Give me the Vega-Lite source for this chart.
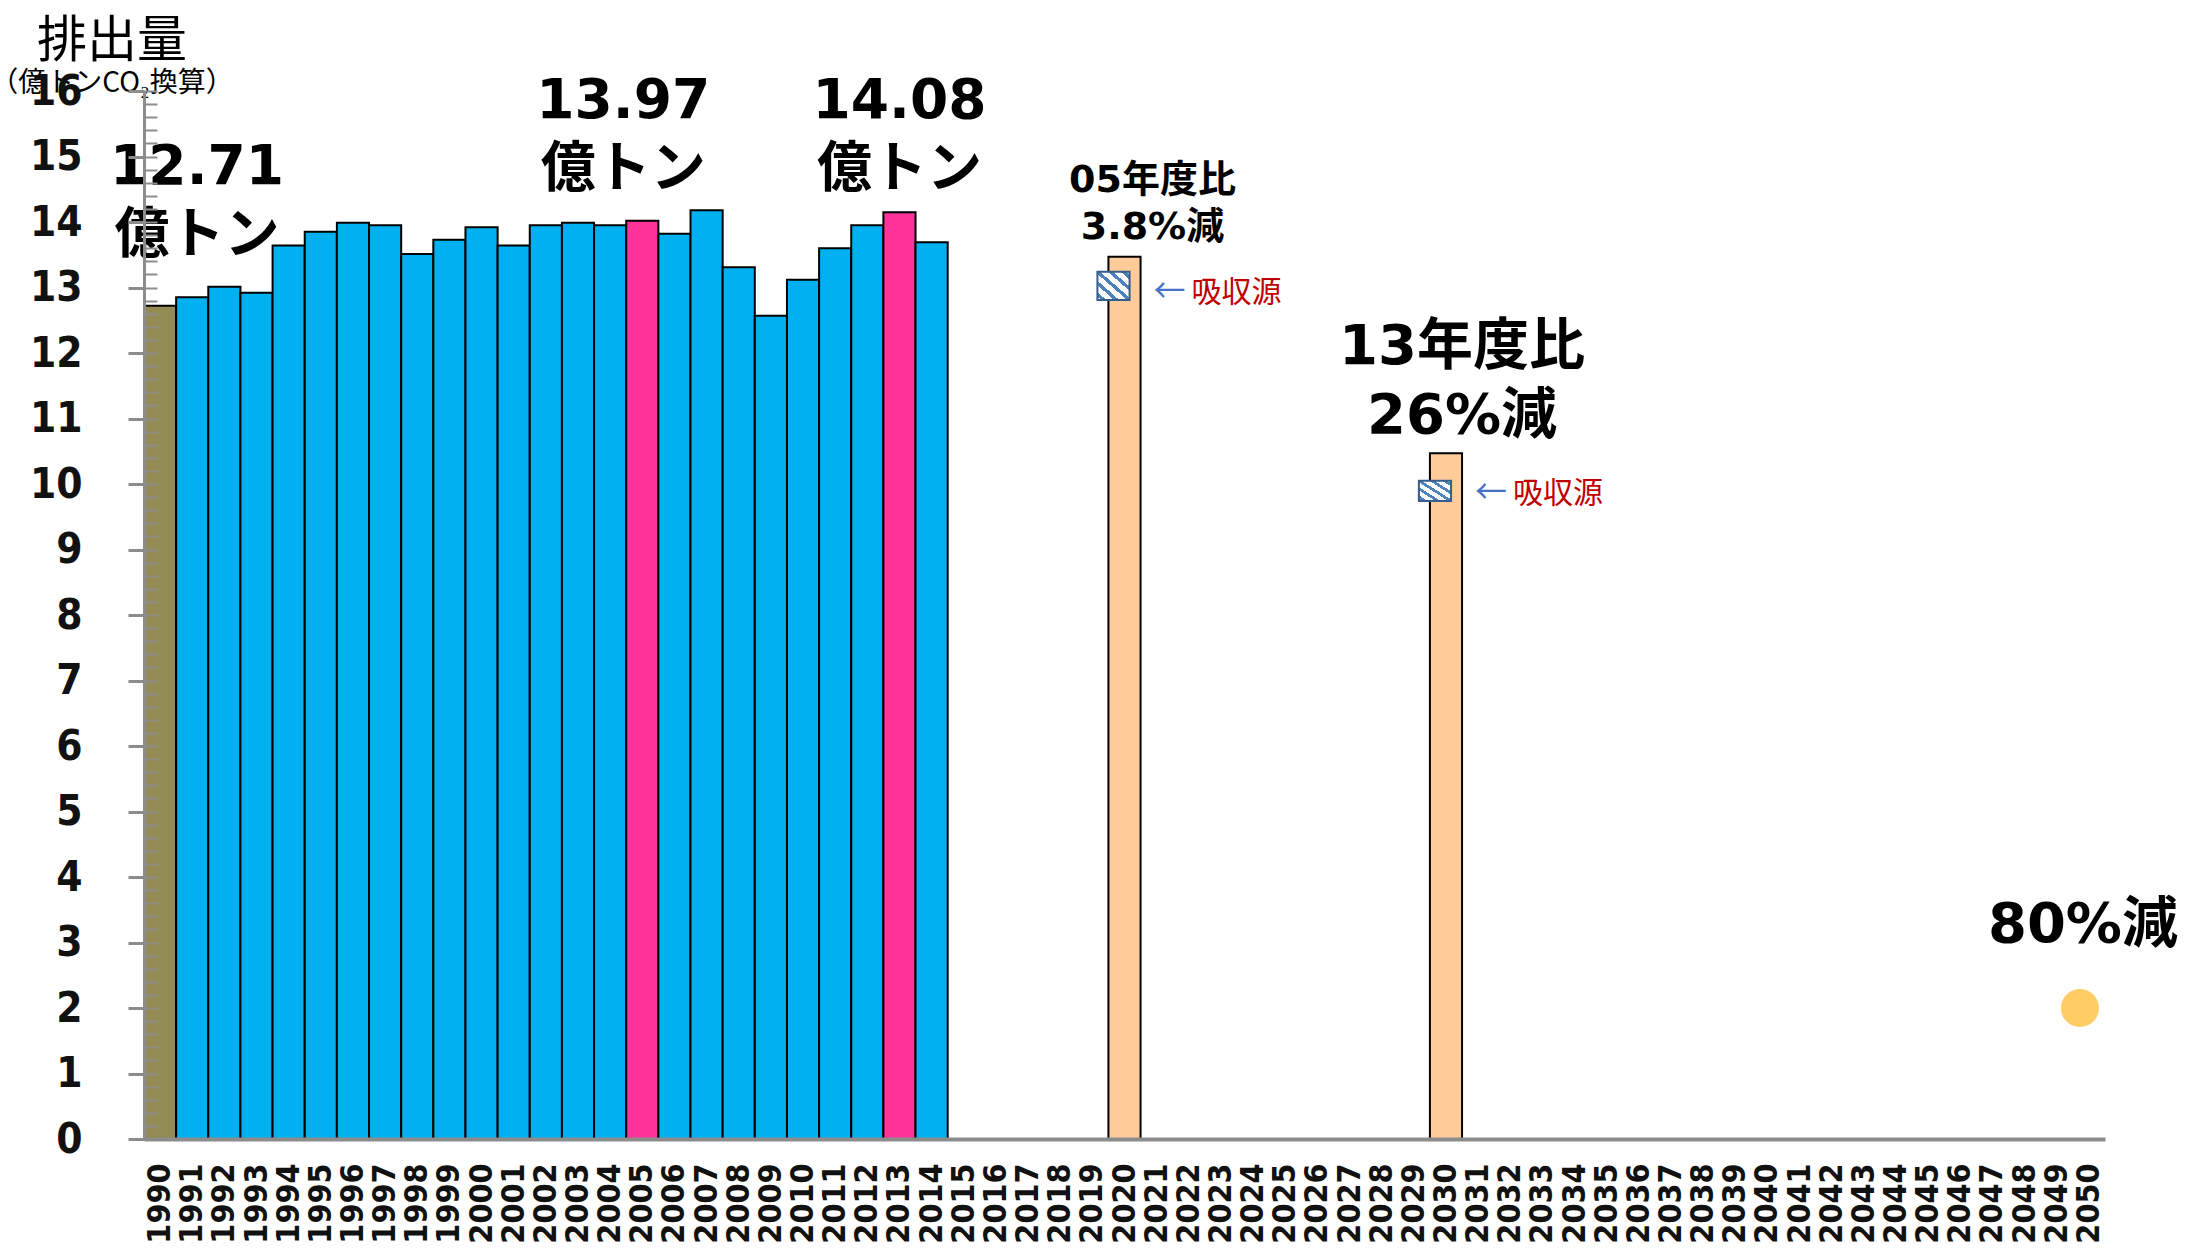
{
  "$schema": "https://vega.github.io/schema/vega-lite/v6.json",
  "width": 1961,
  "height": 1048,
  "autosize": "none",
  "padding": {"left": 144, "top": 91, "right": 83, "bottom": 110},
  "background": "white",
  "config": {"view": {"stroke": null}},
  "title": {
    "text": "排出量",
    "subtitle": "（億トンCO₂換算）",
    "anchor": "start",
    "align": "center",
    "frame": "group",
    "dx": -32,
    "offset": -28,
    "font": "Noto Sans CJK JP",
    "fontSize": 50,
    "fontWeight": "normal",
    "color": "black",
    "subtitleFont": "Noto Sans CJK JP",
    "subtitleFontSize": 28,
    "subtitleColor": "black",
    "subtitlePadding": 3
  },
  "datasets": {
    "emissions": [
      {"year": "1990", "value": 12.72, "kind": "base"},
      {"year": "1991", "value": 12.85, "kind": "annual"},
      {"year": "1992", "value": 13.01, "kind": "annual"},
      {"year": "1993", "value": 12.92, "kind": "annual"},
      {"year": "1994", "value": 13.64, "kind": "annual"},
      {"year": "1995", "value": 13.85, "kind": "annual"},
      {"year": "1996", "value": 13.99, "kind": "annual"},
      {"year": "1997", "value": 13.95, "kind": "annual"},
      {"year": "1998", "value": 13.51, "kind": "annual"},
      {"year": "1999", "value": 13.73, "kind": "annual"},
      {"year": "2000", "value": 13.92, "kind": "annual"},
      {"year": "2001", "value": 13.64, "kind": "annual"},
      {"year": "2002", "value": 13.95, "kind": "annual"},
      {"year": "2003", "value": 13.99, "kind": "annual"},
      {"year": "2004", "value": 13.95, "kind": "annual"},
      {"year": "2005", "value": 14.02, "kind": "peak"},
      {"year": "2006", "value": 13.82, "kind": "annual"},
      {"year": "2007", "value": 14.18, "kind": "annual"},
      {"year": "2008", "value": 13.31, "kind": "annual"},
      {"year": "2009", "value": 12.57, "kind": "annual"},
      {"year": "2010", "value": 13.12, "kind": "annual"},
      {"year": "2011", "value": 13.60, "kind": "annual"},
      {"year": "2012", "value": 13.95, "kind": "annual"},
      {"year": "2013", "value": 14.15, "kind": "peak"},
      {"year": "2014", "value": 13.69, "kind": "annual"},
      {"year": "2020", "value": 13.47, "kind": "target"},
      {"year": "2030", "value": 10.47, "kind": "target"}
    ],
    "sinks": [
      {"year": "2020", "top": 13.24, "bottom": 12.81, "label": "吸収源"},
      {"year": "2030", "top": 10.05, "bottom": 9.74, "label": "吸収源"}
    ],
    "notes": [
      {"id": "a1", "year": "1990", "label": "12.71\n億トン"},
      {"id": "a2", "year": "2005", "label": "13.97\n億トン"},
      {"id": "a3", "year": "2013", "label": "14.08\n億トン"},
      {"id": "a4", "year": "2020", "label": "05年度比\n3.8%減"},
      {"id": "a5", "year": "2030", "label": "13年度比\n26%減"},
      {"id": "a6", "year": "2050", "label": "80%減"}
    ],
    "target": [
      {"year": "2050", "value": 2.0}
    ]
  },
  "encoding": {
    "x": {
      "field": "year",
      "type": "ordinal",
      "scale": {
        "type": "band",
        "paddingInner": 0,
        "paddingOuter": 0,
        "domain": ["1990","1991","1992","1993","1994","1995","1996","1997","1998","1999","2000","2001","2002","2003","2004","2005","2006","2007","2008","2009","2010","2011","2012","2013","2014","2015","2016","2017","2018","2019","2020","2021","2022","2023","2024","2025","2026","2027","2028","2029","2030","2031","2032","2033","2034","2035","2036","2037","2038","2039","2040","2041","2042","2043","2044","2045","2046","2047","2048","2049","2050"]
      },
      "axis": {
        "title": null,
        "labelAngle": -90,
        "labelAlign": "right",
        "labelBaseline": "middle",
        "labelPadding": 24,
        "labelFont": "DejaVu Sans Condensed",
        "labelFontWeight": "bold",
        "labelFontSize": 32,
        "labelColor": "#111111",
        "labelOverlap": false,
        "ticks": false,
        "domainColor": "#8C8C8C",
        "domainWidth": 4,
        "zindex": 1
      }
    }
  },
  "resolve": {"axis": {"y": "independent"}},
  "layer": [
    {
      "data": {"name": "emissions"},
      "mark": {"type": "bar", "stroke": "#000000", "strokeWidth": 2},
      "encoding": {
        "y": {
          "field": "value",
          "type": "quantitative",
          "scale": {"domain": [0, 16], "nice": false},
          "axis": {
            "title": null,
            "orient": "left",
            "values": [0,1,2,3,4,5,6,7,8,9,10,11,12,13,14,15,16],
            "tickSize": 16,
            "tickWidth": 3,
            "tickColor": "#8C8C8C",
            "domainColor": "#8C8C8C",
            "domainWidth": 3,
            "labelFont": "DejaVu Sans Condensed",
            "labelFontWeight": "bold",
            "labelFontSize": 42,
            "labelColor": "#111111",
            "labelPadding": 46,
            "labelOverlap": false,
            "grid": false,
            "zindex": 1
          }
        },
        "color": {
          "field": "kind",
          "type": "nominal",
          "scale": {"domain": ["base", "annual", "peak", "target"], "range": ["#948A54", "#00B0F0", "#FF3399", "#FFCC99"]},
          "legend": null
        }
      }
    },
    {
      "data": {"name": "sinks"},
      "mark": {
        "type": "rect",
        "xOffset": -11,
        "stroke": "#385D8A",
        "strokeWidth": 2,
        "fill": {
          "gradient": "linear",
          "x1": 0, "y1": 1, "x2": 1, "y2": 0,
          "stops": [
            {"offset": 0, "color": "#FFFFFF"},
            {"offset": 0.06, "color": "#FFFFFF"},
            {"offset": 0.06, "color": "#4F81BD"},
            {"offset": 0.14, "color": "#4F81BD"},
            {"offset": 0.14, "color": "#FFFFFF"},
            {"offset": 0.26, "color": "#FFFFFF"},
            {"offset": 0.26, "color": "#4F81BD"},
            {"offset": 0.34, "color": "#4F81BD"},
            {"offset": 0.34, "color": "#FFFFFF"},
            {"offset": 0.46, "color": "#FFFFFF"},
            {"offset": 0.46, "color": "#4F81BD"},
            {"offset": 0.54, "color": "#4F81BD"},
            {"offset": 0.54, "color": "#FFFFFF"},
            {"offset": 0.66, "color": "#FFFFFF"},
            {"offset": 0.66, "color": "#4F81BD"},
            {"offset": 0.74, "color": "#4F81BD"},
            {"offset": 0.74, "color": "#FFFFFF"},
            {"offset": 0.86, "color": "#FFFFFF"},
            {"offset": 0.86, "color": "#4F81BD"},
            {"offset": 0.94, "color": "#4F81BD"},
            {"offset": 0.94, "color": "#FFFFFF"},
            {"offset": 1, "color": "#FFFFFF"}
          ]
        }
      },
      "encoding": {
        "y": {
          "field": "top",
          "type": "quantitative",
          "scale": {"domain": [0, 16], "nice": false},
          "axis": {
            "title": null,
            "orient": "left",
            "tickCount": 80,
            "labels": false,
            "domain": false,
            "tickSize": -13,
            "tickWidth": 2,
            "tickColor": "#8C8C8C",
            "grid": false,
            "zindex": 1
          }
        },
        "y2": {"field": "bottom"}
      }
    },
    {
      "data": {"name": "sinks"},
      "mark": {"type": "text", "text": "←", "font": "Noto Sans CJK JP", "fontSize": 32, "color": "#4472C4", "align": "center", "baseline": "middle", "dx": 45, "dy": -8},
      "encoding": {
        "y": {"field": "bottom", "type": "quantitative", "scale": {"domain": [0, 16], "nice": false}, "axis": null}
      }
    },
    {
      "data": {"name": "sinks"},
      "mark": {"type": "text", "font": "Noto Sans CJK JP", "fontSize": 30, "color": "#C00000", "align": "left", "baseline": "middle", "dx": 67, "dy": -7},
      "encoding": {
        "y": {"field": "bottom", "type": "quantitative", "scale": {"domain": [0, 16], "nice": false}, "axis": null},
        "text": {"field": "label", "type": "nominal"}
      }
    },
    {
      "data": {"name": "notes"},
      "transform": [{"filter": "datum.id === 'a1'"}],
      "mark": {"type": "text", "lineBreak": "\n", "lineHeight": 68, "font": "DejaVu Sans, Noto Sans CJK JP", "fontWeight": "bold", "fontSize": 55, "color": "black", "align": "center", "baseline": "middle", "dx": 37},
      "encoding": {
        "y": {"datum": 14.84, "type": "quantitative", "scale": {"domain": [0, 16], "nice": false}, "axis": null},
        "text": {"field": "label", "type": "nominal"}
      }
    },
    {
      "data": {"name": "notes"},
      "transform": [{"filter": "datum.id === 'a2'"}],
      "mark": {"type": "text", "lineBreak": "\n", "lineHeight": 68, "font": "DejaVu Sans, Noto Sans CJK JP", "fontWeight": "bold", "fontSize": 55, "color": "black", "align": "center", "baseline": "middle", "dx": -19},
      "encoding": {
        "y": {"datum": 15.84, "type": "quantitative", "scale": {"domain": [0, 16], "nice": false}, "axis": null},
        "text": {"field": "label", "type": "nominal"}
      }
    },
    {
      "data": {"name": "notes"},
      "transform": [{"filter": "datum.id === 'a3'"}],
      "mark": {"type": "text", "lineBreak": "\n", "lineHeight": 68, "font": "DejaVu Sans, Noto Sans CJK JP", "fontWeight": "bold", "fontSize": 55, "color": "black", "align": "center", "baseline": "middle", "dx": 0},
      "encoding": {
        "y": {"datum": 15.84, "type": "quantitative", "scale": {"domain": [0, 16], "nice": false}, "axis": null},
        "text": {"field": "label", "type": "nominal"}
      }
    },
    {
      "data": {"name": "notes"},
      "transform": [{"filter": "datum.id === 'a4'"}],
      "mark": {"type": "text", "lineBreak": "\n", "lineHeight": 47, "font": "DejaVu Sans, Noto Sans CJK JP", "fontWeight": "bold", "fontSize": 38, "color": "black", "align": "center", "baseline": "middle", "dx": 28},
      "encoding": {
        "y": {"datum": 14.63, "type": "quantitative", "scale": {"domain": [0, 16], "nice": false}, "axis": null},
        "text": {"field": "label", "type": "nominal"}
      }
    },
    {
      "data": {"name": "notes"},
      "transform": [{"filter": "datum.id === 'a5'"}],
      "mark": {"type": "text", "lineBreak": "\n", "lineHeight": 69, "font": "DejaVu Sans, Noto Sans CJK JP", "fontWeight": "bold", "fontSize": 56, "color": "black", "align": "center", "baseline": "middle", "dx": 16},
      "encoding": {
        "y": {"datum": 12.09, "type": "quantitative", "scale": {"domain": [0, 16], "nice": false}, "axis": null},
        "text": {"field": "label", "type": "nominal"}
      }
    },
    {
      "data": {"name": "notes"},
      "transform": [{"filter": "datum.id === 'a6'"}],
      "mark": {"type": "text", "font": "DejaVu Sans, Noto Sans CJK JP", "fontWeight": "bold", "fontSize": 56, "color": "black", "align": "center", "baseline": "middle", "dx": -6},
      "encoding": {
        "y": {"datum": 3.27, "type": "quantitative", "scale": {"domain": [0, 16], "nice": false}, "axis": null},
        "text": {"field": "label", "type": "nominal"}
      }
    },
    {
      "data": {"name": "target"},
      "mark": {"type": "point", "shape": "circle", "filled": true, "size": 1450, "color": "#FFCC66", "opacity": 1, "xOffset": -9},
      "encoding": {
        "y": {"field": "value", "type": "quantitative", "scale": {"domain": [0, 16], "nice": false}, "axis": null}
      }
    }
  ]
}
